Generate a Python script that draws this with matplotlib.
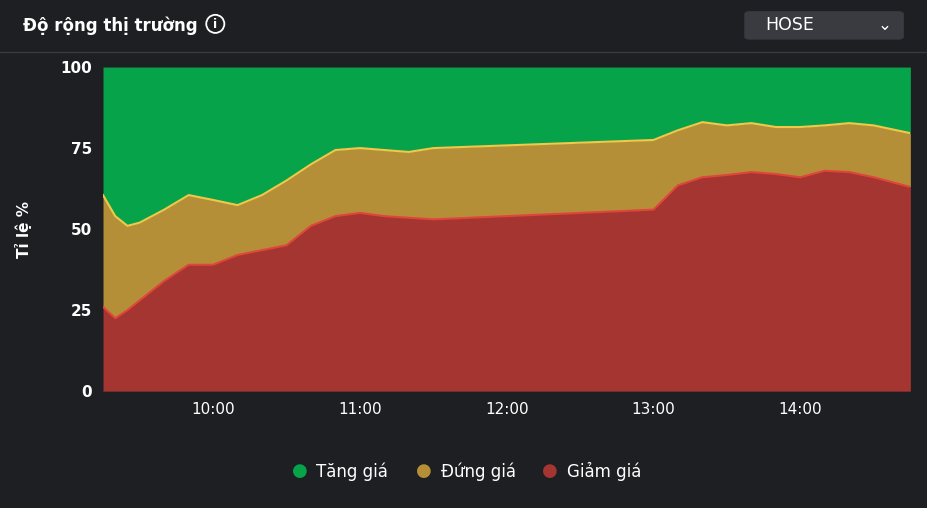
import matplotlib.pyplot as plt
from matplotlib.patches import FancyBboxPatch, Ellipse

# times (HH:MM) and stacked boundaries in %
times = ["9:15", "9:20", "9:25", "9:30", "9:40", "9:50", "10:00", "10:10", "10:20", "10:30",
         "10:40", "10:50", "11:00", "11:10", "11:20", "11:30", "13:00", "13:10", "13:20",
         "13:30", "13:40", "13:50", "14:00", "14:10", "14:20", "14:30", "14:45"]
giam = [26, 22.5, 25, 28, 34, 39, 39, 42, 43.5, 45, 51, 54, 55, 54, 53.5, 53,
        56, 63.5, 66, 66.7, 67.6, 67, 66, 68, 67.6, 66, 63]
giam_dung = [60.5, 54, 51, 52, 56, 60.5, 59, 57.4, 60.5, 65, 70, 74.4, 75, 74.4, 73.8, 75,
             77.5, 80.5, 83, 82, 82.7, 81.5, 81.5, 82, 82.7, 82, 79.6]
tick_labels = ["10:00", "11:00", "12:00", "13:00", "14:00"]

def to_min(s):
    h, m = s.split(":")
    return int(h) * 60 + int(m)

x = [to_min(t) for t in times]
bg = "#1e1f23"
green, yellow, red = "#06a34a", "#b58f37", "#a43530"

fig = plt.figure(figsize=(9.28, 5.08), dpi=100, facecolor=bg)
ax = fig.add_axes([0.111, 0.23, 0.87, 0.638], facecolor=bg)
ax.fill_between(x, giam_dung, 100, color=green, linewidth=0)
ax.fill_between(x, giam, giam_dung, color=yellow, linewidth=0)
ax.fill_between(x, 0, giam, color=red, linewidth=0)
ax.plot(x, giam_dung, color="#f0c84a", lw=1.5)
ax.plot(x, giam, color="#e0453c", lw=1.5)
ax.set_xlim(x[0], x[-1])
ax.set_ylim(0, 100)
ax.set_yticks([0, 25, 50, 75, 100])
ax.set_xticks([to_min(t) for t in tick_labels])
ax.set_xticklabels(tick_labels)
ax.tick_params(colors="white", labelsize=11, length=0, pad=8)
for lab in ax.get_yticklabels():
    lab.set_fontweight("bold")
for s in ax.spines.values():
    s.set_visible(False)
ax.set_ylabel("Tỉ lệ %", color="white", fontsize=11, fontweight="bold", labelpad=20)

# header
fig.text(0.025, 0.95, "Độ rộng thị trường", color="white", fontsize=12, fontweight="semibold", va="center")
fig.add_artist(Ellipse((0.232, 0.953), 0.0195, 0.0356, transform=fig.transFigure,
                       facecolor="none", edgecolor="white", lw=1.3))
fig.text(0.232, 0.952, "i", color="white", fontsize=9, va="center", ha="center", fontweight="bold")
fig.add_artist(plt.Line2D([0, 1], [0.897, 0.897], color="#3a3b40", lw=1))
box = FancyBboxPatch((0.802, 0.922), 0.172, 0.056, boxstyle="round,pad=0,rounding_size=0.006",
                     transform=fig.transFigure, facecolor="#3a3b40", edgecolor="none")
fig.add_artist(box)
fig.text(0.825, 0.951, "HOSE", color="white", fontsize=12.5, va="center")
fig.text(0.953, 0.951, "⌄", color="white", fontsize=12, va="center", ha="center")

# legend
items = [("Tăng giá", green), ("Đứng giá", yellow), ("Giảm giá", red)]
xs = [0.323, 0.457, 0.593]
for (lbl, c), xp in zip(items, xs):
    fig.text(xp, 0.072, "●", color=c, fontsize=13, va="center", ha="center")
    fig.text(xp + 0.018, 0.072, lbl, color="white", fontsize=12, va="center")

fig.savefig("out.png", facecolor=bg)
